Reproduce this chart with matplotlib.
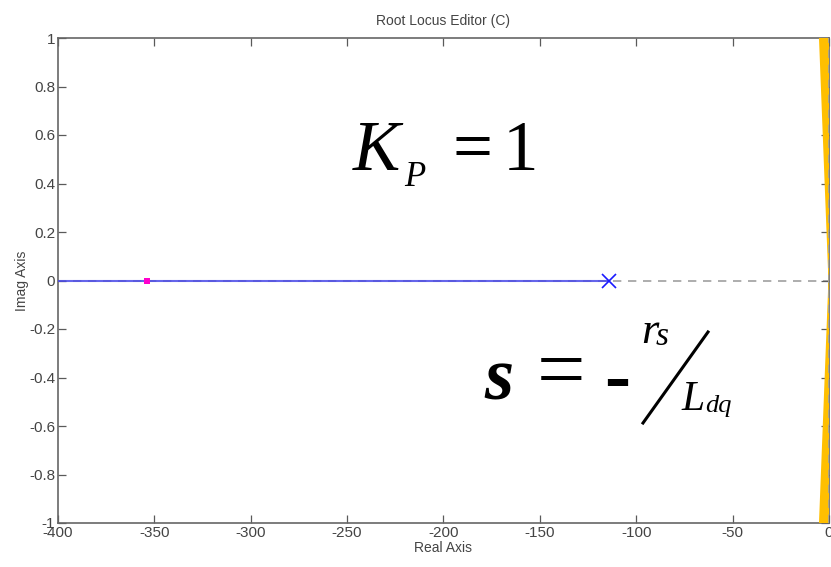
import matplotlib
matplotlib.use("Agg")
import matplotlib.pyplot as plt
import numpy as np

# ---- data ----
open_loop_poles = [-114.0]
closed_loop_poles = [-354.0]
locus_x = [-400.0, -114.0]
locus_y = [0.0, 0.0]
region_x = [-5.2, 0.0, 0.0, -5.2, -0.3]
region_y = [1.0, 1.0, -1.0, -1.0, 0.0]
xticks = [-400, -350, -300, -250, -200, -150, -100, -50, 0]
yticks = [-1, -0.8, -0.6, -0.4, -0.2, 0, 0.2, 0.4, 0.6, 0.8, 1]
xlabels = ["-400", "-350", "-300", "-250", "-200", "-150", "-100", "-50", "0"]
ylabels = ["-1", "-0.8", "-0.6", "-0.4", "-0.2", "0", "0.2", "0.4", "0.6", "0.8", "1"]

W, H = 831, 567
fig = plt.figure(figsize=(W / 100, H / 100), dpi=100)
ax = fig.add_axes([58 / W, 1 - 523 / H, (829 - 58) / W, (523 - 38) / H])

gray = "#5a5a5a"
ax.set_xlim(-400, 0)
ax.set_ylim(-1, 1)

ax.axhline(0, color="#a0a0a0", ls=(0, (5, 4)), lw=1.2, zorder=1)
ax.fill(region_x, region_y, color="#ffbf00", lw=0, zorder=3, clip_on=False)
ax.axvline(0, color="#a0a0a0", ls=(0, (5, 4)), lw=1.2, zorder=4)

ax.plot(locus_x, locus_y, color="#4a4ae8", lw=1.5, zorder=5, alpha=0.85)
ax.plot(open_loop_poles, [0] * len(open_loop_poles), "x", color="#1a1aff",
        ms=10, mew=1.2, zorder=6)
ax.plot(closed_loop_poles, [0] * len(closed_loop_poles), "s", color="#ff00cc",
        ms=4.5, mew=0, zorder=6)

ax.set_xticks(xticks)
ax.set_xticklabels(xlabels)
ax.set_yticks(yticks)
ax.set_yticklabels(ylabels)
ax.tick_params(direction="in", length=6, width=0.9, color=gray, labelcolor="#444444",
               labelsize=11, top=True, right=True, pad=2)
for lab in ax.get_xticklabels() + ax.get_yticklabels():
    lab.set_family("Liberation Sans")
for sp in ax.spines.values():
    sp.set_color("#666666")
    sp.set_linewidth(1.2)

ax.set_xlabel("Real Axis", fontsize=10, color="#444444", family="Liberation Sans", labelpad=1)
ax.set_ylabel("Imag Axis", fontsize=10, color="#444444", family="Liberation Sans", labelpad=0)
ax.set_title("Root Locus Editor (C)", fontsize=10, color="#444444", family="Liberation Sans", pad=9)

def ftext(x, y, s, **kw):
    fig.text(x / W, 1 - y / H, s, va="baseline", **kw)

serif = "Liberation Serif"
# K_P = 1
ftext(353, 170, "K", fontsize=51, family=serif, style="italic")
ftext(404, 186, "P", fontsize=25, family=serif, style="italic")
ftext(452, 170, "=", fontsize=51, family=serif)
ftext(503, 170, "1", fontsize=51, family=serif)

# s = - r_s / L_dq
ftext(484, 400, "s", fontsize=54, family=serif, style="italic", weight="bold")
ftext(537, 398, "=", fontsize=62, family=serif)
ftext(604, 401, "-", fontsize=56, family=serif, weight="bold")
ftext(641, 343, "r", fontsize=32, family=serif, style="italic")
ftext(656, 345, "s", fontsize=24, family=serif, style="italic")
fig.add_artist(plt.Line2D([643 / W, 708 / W], [1 - 423 / H, 1 - 332 / H],
                          transform=fig.transFigure, color="black", lw=2.2))
ftext(681, 410, "L", fontsize=30, family=serif, style="italic")
ftext(705, 412, "dq", fontsize=19, family=serif, style="italic")

fig.savefig("out.png", dpi=100, facecolor="white")
